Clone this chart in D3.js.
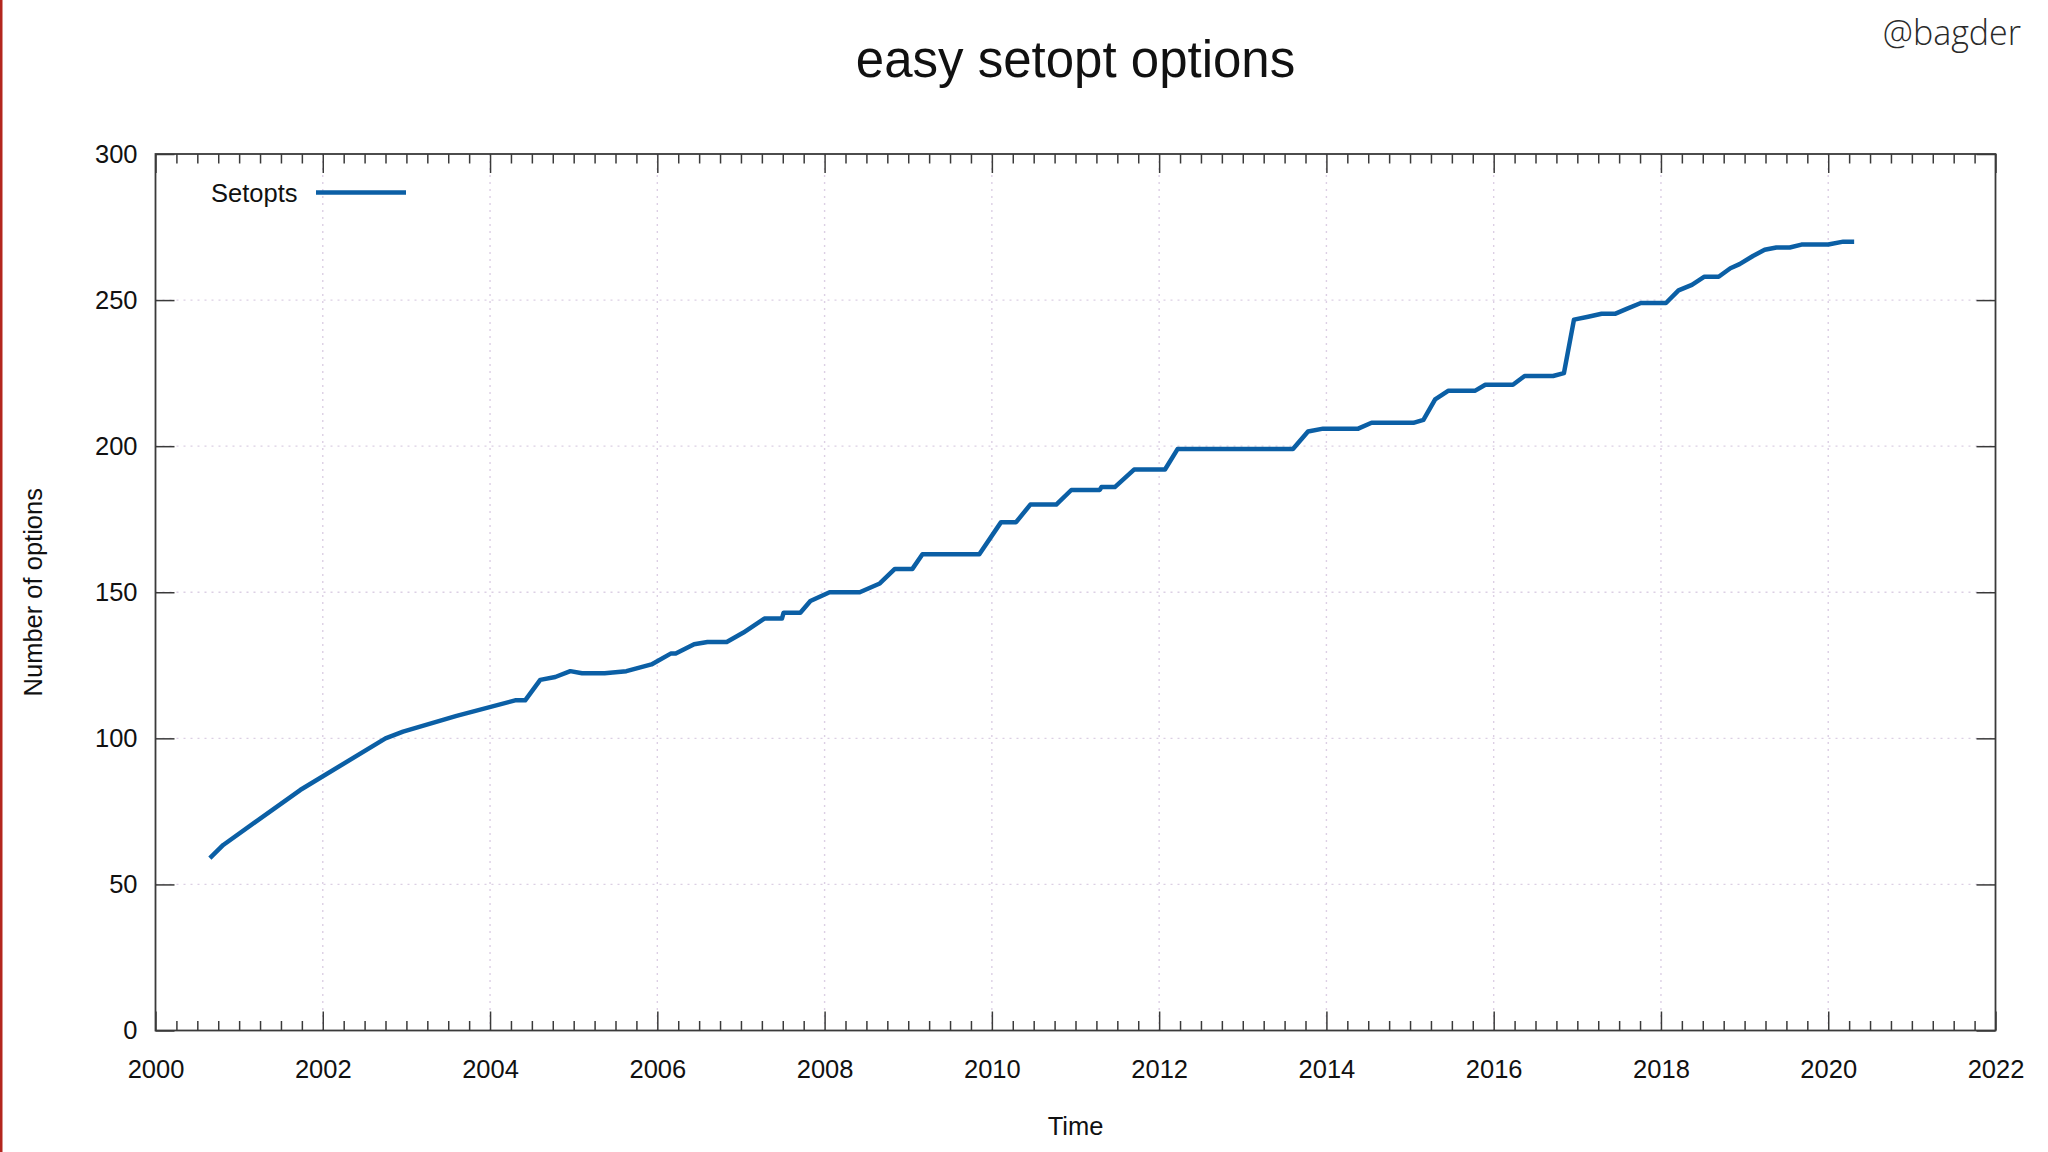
<!DOCTYPE html>
<html>
<head>
<meta charset="utf-8">
<script src="https://cdn.jsdelivr.net/npm/d3@7"></script>
<style>
  html, body { margin: 0; padding: 0; background: #ffffff; }
  svg { display: block; }
  text { font-family: "Liberation Sans", Arial, sans-serif; fill: #111; }
</style>
</head>
<body>
<svg id="chart" width="2048" height="1152"></svg>
<script>
// ---- data ----
const years = [
  2000.65, 2000.81, 2001.73, 2002.75, 2002.96, 2003.60, 2004.30, 2004.42, 2004.60, 2004.78,
  2004.96, 2005.10, 2005.37, 2005.63, 2005.93, 2006.16, 2006.22, 2006.44, 2006.60, 2006.83,
  2007.03, 2007.28, 2007.49, 2007.51, 2007.71, 2007.83, 2008.06, 2008.42, 2008.66, 2008.84,
  2009.05, 2009.17, 2009.85, 2010.11, 2010.29, 2010.46, 2010.77, 2010.95, 2011.29, 2011.31,
  2011.47, 2011.70, 2012.07, 2012.22, 2013.60, 2013.78, 2013.96, 2014.38, 2014.54, 2015.04,
  2015.16, 2015.30, 2015.46, 2015.78, 2015.90, 2016.23, 2016.37, 2016.71, 2016.84, 2016.96,
  2017.13, 2017.29, 2017.45, 2017.59, 2017.76, 2018.06, 2018.21, 2018.37, 2018.52, 2018.69,
  2018.83, 2018.94, 2019.10, 2019.24, 2019.38, 2019.54, 2019.68, 2020.00, 2020.18, 2020.31
];
const setopts = [
  59, 63.5, 82.3, 100, 102.3, 107.7, 113, 113, 120, 121,
  123, 122.3, 122.3, 123, 125.3, 129, 129, 132.2, 133, 133,
  136.2, 141, 141, 143, 143, 147, 150, 150, 153, 158,
  158, 163, 163, 174, 174, 180, 180, 185, 185, 186,
  186, 192, 192, 199, 199, 205, 206, 206, 208, 208,
  209, 216, 219, 219, 221, 221, 224, 224, 225, 243.3,
  244.3, 245.3, 245.3, 247, 249, 249, 253.3, 255.2, 258, 258,
  260.9, 262.3, 265.1, 267.2, 268, 268, 269, 269, 270, 270
];
const xMajorTicks = [2000, 2002, 2004, 2006, 2008, 2010, 2012, 2014, 2016, 2018, 2020, 2022];
const yMajorTicks = [0, 50, 100, 150, 200, 250, 300];
const titleText = "easy setopt options";
const seriesName = "Setopts";
const xLabel = "Time";
const yLabel = "Number of options";
const watermark = "@bagder";

// ---- layout ----
const svg = d3.select("#chart");
const L = 155.5, R = 1995.5, T = 154, B = 1030.5;
const lineColor = "#0b5fa5";
const axisColor = "#3a3a3a";
const gridColor = "#dccfe4";
const fs = 25.5;

const x = d3.scaleLinear().domain([2000, 2022]).range([L, R]);
const y = d3.scaleLinear().domain([0, 300]).range([B, T]);

const minorX = d3.range(2000, 2022.001, 0.25).filter(v => !xMajorTicks.includes(v));

// left red edge line
svg.append("rect").attr("x", 0).attr("y", 0).attr("width", 2.5).attr("height", 1152).attr("fill", "#b3261e");

// grid
const grid = svg.append("g");
grid.selectAll("line.gx").data(xMajorTicks.filter(v => v > 2000 && v < 2022)).join("line")
  .attr("x1", d => x(d)).attr("x2", d => x(d)).attr("y1", T).attr("y2", B)
  .attr("stroke", gridColor).attr("stroke-width", 1.4).attr("stroke-dasharray", "2,5");
grid.selectAll("line.gy").data(yMajorTicks.filter(v => v > 0 && v < 300)).join("line")
  .attr("x1", L).attr("x2", R).attr("y1", d => y(d)).attr("y2", d => y(d))
  .attr("stroke", gridColor).attr("stroke-width", 1.4).attr("stroke-dasharray", "2,5");

// axes
function styleAxis(g) {
  g.select(".domain").remove();
  g.selectAll(".tick line").attr("stroke", axisColor).attr("stroke-width", 1.5);
  g.selectAll(".tick text").attr("font-size", fs).attr("fill", "#111")
    .attr("font-family", "'Liberation Sans', Arial, sans-serif");
}
// bottom major
svg.append("g").attr("transform", `translate(0,${B})`)
  .call(d3.axisBottom(x).tickValues(xMajorTicks).tickFormat(d3.format("d")).tickSizeInner(-19).tickSizeOuter(0).tickPadding(29.5))
  .call(styleAxis);
// bottom minor
svg.append("g").attr("transform", `translate(0,${B})`)
  .call(d3.axisBottom(x).tickValues(minorX).tickFormat("").tickSizeInner(-9.5).tickSizeOuter(0))
  .call(styleAxis);
// top major / minor (mirror)
svg.append("g").attr("transform", `translate(0,${T})`)
  .call(d3.axisTop(x).tickValues(xMajorTicks).tickFormat("").tickSizeInner(-19).tickSizeOuter(0))
  .call(styleAxis);
svg.append("g").attr("transform", `translate(0,${T})`)
  .call(d3.axisTop(x).tickValues(minorX).tickFormat("").tickSizeInner(-9.5).tickSizeOuter(0))
  .call(styleAxis);
// left
svg.append("g").attr("transform", `translate(${L},0)`)
  .call(d3.axisLeft(y).tickValues(yMajorTicks).tickFormat(d3.format("d")).tickSizeInner(-19).tickSizeOuter(0).tickPadding(18))
  .call(styleAxis);
// right (mirror)
svg.append("g").attr("transform", `translate(${R},0)`)
  .call(d3.axisRight(y).tickValues(yMajorTicks).tickFormat("").tickSizeInner(-19).tickSizeOuter(0))
  .call(styleAxis);

// frame
svg.append("rect").attr("x", L).attr("y", T).attr("width", R - L).attr("height", B - T)
  .attr("fill", "none").attr("stroke", axisColor).attr("stroke-width", 1.8);

// data line
const pts = years.map((d, i) => [d, setopts[i]]);
svg.append("path").datum(pts)
  .attr("fill", "none").attr("stroke", lineColor).attr("stroke-width", 4.5)
  .attr("stroke-linejoin", "round").attr("stroke-linecap", "butt")
  .attr("d", d3.line().x(d => x(d[0])).y(d => y(d[1])));

// legend
svg.append("text").attr("x", 211).attr("y", 202).attr("font-size", fs).text(seriesName);
svg.append("line").attr("x1", 316).attr("x2", 406).attr("y1", 192.5).attr("y2", 192.5)
  .attr("stroke", lineColor).attr("stroke-width", 4.5);

// title
svg.append("text").attr("x", (L + R) / 2).attr("y", 77).attr("text-anchor", "middle")
  .attr("font-size", 51).text(titleText);

// axis labels
svg.append("text").attr("x", (L + R) / 2).attr("y", 1135).attr("text-anchor", "middle")
  .attr("font-size", fs).text(xLabel);
svg.append("text").attr("transform", `translate(42,${(T + B) / 2}) rotate(-90)`)
  .attr("text-anchor", "middle").attr("font-size", fs).text(yLabel);

// watermark
svg.append("text").attr("x", 2021).attr("y", 45).attr("text-anchor", "end")
  .attr("font-size", 34)
  .style("font-family", "'Open Sans', 'Noto Sans', sans-serif")
  .style("fill", "#2a2a2a").style("font-weight", 300).text(watermark);
</script>
</body>
</html>
